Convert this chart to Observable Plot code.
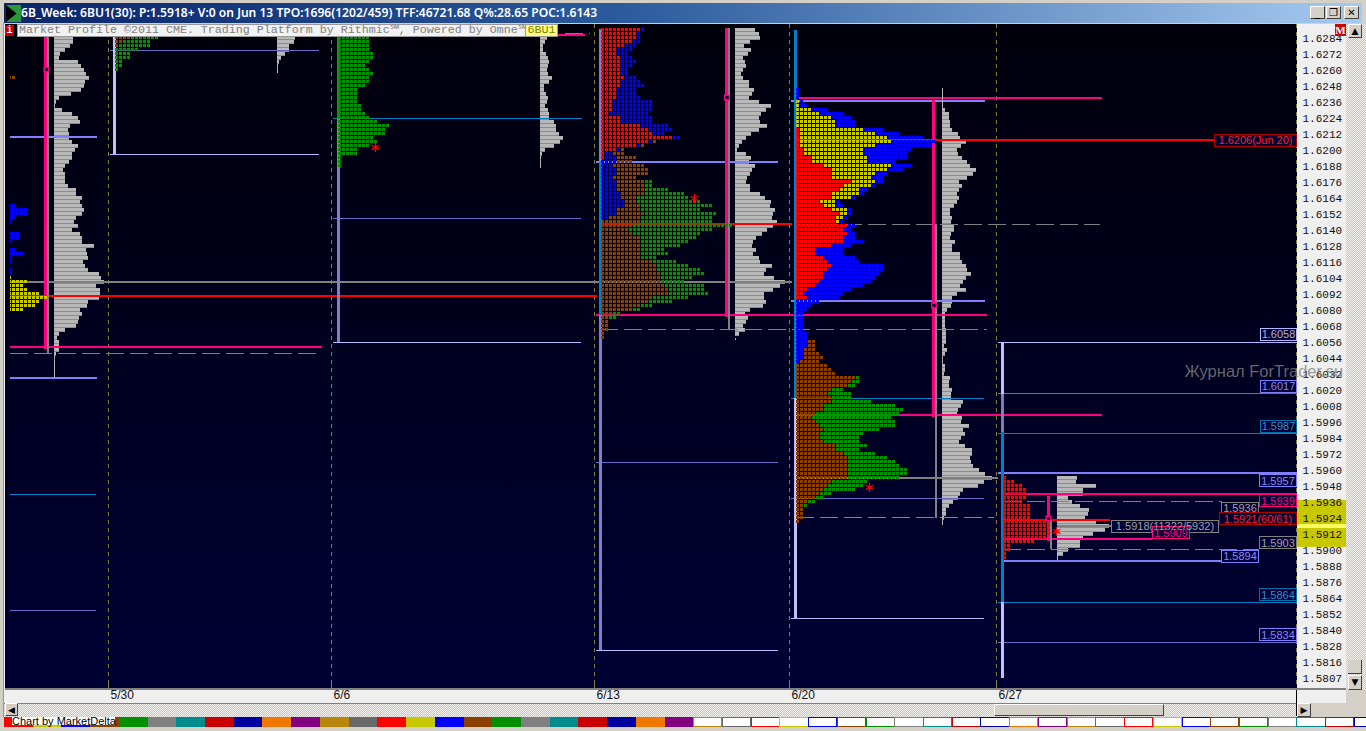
<!DOCTYPE html>
<html><head><meta charset="utf-8">
<script src="https://cdn.jsdelivr.net/npm/d3@7"></script>
<script src="https://cdn.jsdelivr.net/npm/@observablehq/plot@0.6"></script>
<style>
html,body{margin:0;padding:0;background:#d4d0c8;overflow:hidden}
#win{position:relative;width:1366px;height:731px;overflow:hidden;background:#d4d0c8}
#win>*{position:absolute}
#tb{left:4px;top:3px;width:1358px;height:20px;background:linear-gradient(to right,#0a246a 0%,#2a5a9c 45%,#a6caf0 100%);color:#fff;font:600 12.1px "Noto Sans",sans-serif;line-height:20px;white-space:nowrap}
#tb span{position:absolute;left:17px;top:0}
#icon{left:6px;top:5px;width:15px;height:17px;background:#27973a;overflow:hidden}
#icon i{position:absolute;left:0;top:0;width:15px;height:17px;background:#000;clip-path:polygon(0 0,70% 50%,0 100%)}
.wb{top:6px;width:15px;height:13px;background:#d4d0c8;border:1px solid;border-color:#fff #404040 #404040 #fff;box-sizing:border-box;color:#000;font:bold 10px "DejaVu Sans",sans-serif;text-align:center;line-height:11px}
svg{position:absolute;left:0;top:24px}
#ban{left:17px;top:24px;width:507px;height:11px;background:#f2f2f2;border:1px solid #999;color:#808080;font:11.67px/11px "Liberation Mono",monospace;white-space:nowrap;padding-left:1px}
#ban6{left:525px;top:24px;width:31px;height:11px;background:#ffff80;border:1px solid #999;color:#808000;font:11.67px/11px "Liberation Mono",monospace;white-space:nowrap;text-align:center}
#ii{left:5px;top:25px;width:9px;height:11px;background:#c80000;color:#fff;font:bold 10px/11px "Liberation Mono",monospace;text-align:center}
#mm{left:1335px;top:24px;width:11px;height:12px;background:#d00000;color:#fff;font:bold 11px/12px "Liberation Serif",serif;text-align:center}
.hatch{background:repeating-conic-gradient(#c8c4bc 0 25%,#f4f2ee 0 50%) 0 0/2px 2px}
.btn{background:#d4d0c8;border:1px solid;border-color:#fff #404040 #404040 #fff;box-sizing:border-box;color:#000;font:9px/12px "DejaVu Sans",sans-serif;text-align:center}
#cby{left:12px;top:717px;width:103px;height:8px;background:#fff;color:#000;font:11px/8px "Liberation Sans",sans-serif;white-space:nowrap;z-index:3}
.sw{top:717px;height:10px;box-sizing:border-box}
</style></head><body><div id="win"></div>
<script>
// ---------- data: price ruler and time ticks ----------
const yTickLabels=["1.6284","1.6272","1.6260","1.6248","1.6236","1.6224","1.6212","1.6200","1.6188","1.6176","1.6164","1.6152","1.6140","1.6128","1.6116","1.6104","1.6092","1.6080","1.6068","1.6056","1.6044","1.6032","1.6020","1.6008","1.5996","1.5984","1.5972","1.5960","1.5948","1.5936","1.5924","1.5912","1.5900","1.5888","1.5876","1.5864","1.5852","1.5840","1.5828","1.5816"];
const xLabels=["5/30","6/6","6/13","6/20","6/27"];
const xSlots=[108,331,594,789,996];
const lastPrice=["1.5807",1.5804];
// ---------- data: TPO letters, cumulative end column per colour, one row per price step ----------
const colBlue="#0000ff",colYellow="#c8c800",colRed="#ff0000",colBrown="#8b4000",colGreen="#009000";
const tpoOld=[[2],[5],[5],[2],[1],[0],[0],[3],[3],[1],[0],[2],[4],[1],[1],[0],[1],[1]];
const tpoOldY=[[1],[5],[4],[5],[8],[10],[8],[7],[4]];
const tpoDot=[[2]];
const tpo530=[[4,11],[2,9],[1,9],[0,6],[0,4],[0,4],[0,2],[0,2],[0,1]];
const tpo66=[[8],[8],[8],[8],[9],[9],[8],[7],[8],[9],[8],[8],[7],[5],[5],[5],[5],[6],[6],[7],[8],[10],[13],[12],[12],[9],[10],[8],[5],[5],[1],[1],[1]];
const tpo613=[[10,11],[9,10],[9,10],[8,10],[6,9],[4,8],[4,7],[5,8],[5,9],[5,8],[5,7],[5,7],[6,9],[5,10],[5,11],[4,9],[4,9],[4,10],[3,13],[3,13],[3,13],[2,12],[5,13],[5,13],[10,17],[12,18],[13,16],[18,20],[12,13,14],[9,10,11],[4,5,6],[1,3,6],[1,4,9],[0,4,8],[0,3,11],[0,4,12],[0,4,12],[0,3,9],[0,4,11,13],[0,4,11,13],[0,4,11,17],[0,5,11,21],[0,5,9,22],[0,6,9,25],[0,6,10,28],[0,4,10,25],[0,4,11,29],[0,2,10,28],[0,0,10,28],[0,0,8,33],[0,0,7,28],[0,0,8,25],[0,0,10,24],[0,0,10,22],[0,0,10,20],[0,0,10,16],[0,0,10,17],[0,0,10,14],[0,0,13,19],[0,0,14,22],[0,0,14,25],[0,0,15,26],[0,0,15,23],[0,0,15,21],[0,0,16,26],[0,0,17,26],[0,0,17,27],[0,0,13,22],[0,0,12,18],[0,0,10,13],[0,0,8,10],[0,0,3,5],[0,0,2,4],[0,0,2,2],[0,0,2,2],[0,0,2,2],[0,0,1,1],[0,0,1,1]];
const tpo620a=[[0,0,1],[0,0,1],[0,0,1],[0,1,2],[0,1,3],[0,4,8],[0,6,12],[0,9,14],[0,10,15],[0,10,15],[1,17,22],[1,20,26],[1,23,32],[1,24,35],[1,20,34],[2,17,29],[2,17,28],[4,18,28],[4,18,25],[7,24,29],[9,23,27],[9,20,23],[9,19,22],[14,20,22],[12,19,20],[11,16,18],[9,16,17],[9,14,15],[6,10,11],[7,10,12],[9,13,14],[11,13,14],[10,12,13],[10,11,12],[13,13,15],[12,12,14],[13,13,15],[12,12,15],[12,12,17],[9,9,14],[5,5,12],[5,5,12],[7,7,15],[8,8,16],[9,9,22],[8,8,22],[7,7,21],[7,7,20],[6,6,19],[5,5,17],[3,3,14],[2,2,12],[3,3,11],[0,0,6],[0,0,4],[0,0,3],[0,0,2],[0,0,2]];
const tpo620b=[[2],[2],[2],[3],[3],[3,5,5],[3,5,5],[2,5,5],[2,6,6],[2,7,7],[1,6,6],[0,8,8],[0,9,9],[0,10,10],[0,15,16],[0,14,16],[0,13,15],[0,9,12],[0,8,14],[0,9,14],[0,9,19],[0,7,25],[0,7,27],[0,5,26],[0,4,24],[0,5,25],[0,6,25],[0,7,21],[0,6,17],[0,6,16],[0,7,16],[0,10,18],[0,10,16],[0,12,20],[0,13,23],[0,13,25],[0,13,26],[0,13,28],[0,13,28],[0,13,26],[0,9,18],[0,8,17],[0,7,15],[0,6,9],[0,5,7],[0,3,5],[0,2,3],[0,2,2],[0,2,2],[0,2,2],[0,1,1]];
const tpo627=[[1],[3],[5],[6],[6],[6],[5],[7],[7],[7],[7],[12],[12],[12],[12],[11],[8],[2],[2],[1],[1]];
// [rows, colours, first column, top price, clip column]
const profiles=[
 [tpoDot,[colBrown],8,1.62555,10],
 [tpoOld,[colBlue],8,1.61595,10],
 [tpoOldY,[colYellow],8,1.61055,10],
 [tpo530,[colBrown,colGreen],115,1.62855],
 [tpo66,[colGreen],338,1.62855],
 [tpo613,[colRed,colBlue,colBrown,colGreen],601,1.62915],
 [tpo620a,[colRed,colYellow,colBlue],796,1.62465],
 [tpo620b,[colBlue,colBrown,colGreen],796,1.60725],
 [tpo627,[colRed],1003,1.59555]
];
// ---------- data: volume histograms, width per row ----------
const volOld=[19,19,16,11,6,5,24,27,30,32,35,31,30,27,17,5,2,1,8,18,24,26,16,14,15,15,18,24,21,18,18,15,11,9,11,11,11,14,22,22,28,26,28,30,28,22,20,24,18,26,28,28,40,32,33,34,29,31,34,45,47,50,42,46,46,45,34,33,26,28,25,24,22,11,5,3,5,5,5,2,1,1];
const vol530=[18,17,12,12,8,4,2,1];
const vol66=[7,5,3,3,6,8,9,8,7,8,12,9,4,4,6,8,7,5,8,9,9,14,16,16,19,23,20,14,5,2,1];
const vol613=[20,24,25,15,9,16,13,8,10,11,8,6,8,14,14,19,17,14,24,36,31,26,24,25,32,24,16,11,7,4,2,11,16,14,20,17,15,12,11,15,15,25,30,36,35,40,38,37,42,38,32,27,21,18,17,21,18,24,25,37,31,29,39,50,45,38,29,29,31,28,15,10,13,11,8,10,4];
const vol620=[3,7,7,8,8,10,16,18,24,19,15,16,20,25,28,34,31,25,17,20,17,15,17,15,12,8,8,10,9,12,12,9,8,13,10,10,18,18,20,24,25,29,24,21,18,24,15,10,10,9,5,3,3,3,3,4,4,4,4,2,5,3,1,1,3,3,2,8,7,7,10,9,9,21,19,16,15,20,19,27,21,23,19,17,23,30,30,28,29,31,37,43,50,42,36,21,18,16,11,7,4,4,2];
const vol627=[20,19,39,26,26,11,15,23,32,31,28,39,52,48,36,26,23,23,11,6];
// [widths, base slot, top price]
const histograms=[[volOld,54,1.62855],[vol530,277,1.62855],[vol66,540,1.62855],[vol613,735,1.62915],[vol620,942,1.62315],[vol627,1057,1.59555]];
// ---------- data: horizontal price levels [price, from, to, kind] ----------
const levels=[
 [1.6101,10,792,"gray"],[1.60905,10,597,"red"],[1.60523,10,322,"pink"],[1.60478,10,322,"dash"],
 [1.62098,10,97,"peri"],[1.6029,10,97,"peri"],[1.5942,10,96,"teal"],[1.5855,10,96,"thin"],
 [1.6275,110,319,"thin"],[1.6197,110,319,"pale"],
 [1.6224,333,582,"teal"],[1.6149,333,581,"thin"],[1.6056,333,581,"pale"],
 [1.62866,460,585,"pink"],[1.62878,565,590,"dash"],
 [1.6191,596,778,"peri"],[1.61445,600,792,"red"],[1.60763,596,987,"pink"],[1.60658,600,987,"dash"],[1.5966,596,778,"thin"],[1.5825,596,778,"pale"],
 [1.6239,794,1102,"pink"],[1.62368,791,985,"peri"],[1.62075,796,1214,"red"],[1.61445,796,1100,"dash"],[1.60864,791,985,"peri"],[1.6014,791,984,"teal"],[1.60016,796,1102,"pink"],[1.5954,796,998,"gray"],[1.5939,791,984,"thin"],[1.59248,796,994,"dash"],[1.5849,791,984,"pale"],
 [1.6056,998,1297,"pale"],[1.60178,998,1297,"thin"],[1.59878,998,1297,"teal"],[1.59578,998,1297,"peri"],[1.5942,1001,1297,"pink"],[1.59371,1003,1222,"dash"],[1.59225,1003,1110,"red"],[1.5918,1057,1111,"gray"],[1.59083,1001,1152,"pink"],[1.59008,1003,1259,"dash"],[1.58914,1001,1258,"peri"],[1.5861,998,1297,"teal"],[1.5831,998,1297,"thin"]
];
// ---------- data: vertical range bars [slot, top price, bottom price, kind] ----------
const bars=[
 [48,1.62855,1.6047,"vgray"],[45.5,1.62855,1.60508,"vpink"],
 [114.5,1.62855,1.6197,"vpale"],
 [338.5,1.62855,1.6224,"vteal"],[338.5,1.6224,1.6056,"vlav"],
 [600.5,1.62908,1.6191,"vlav"],[600.5,1.6191,1.60763,"vteal"],[600.5,1.60763,1.5825,"vlav"],
 [729,1.62915,1.60658,"vgray"],[726.5,1.62915,1.60748,"vpink"],
 [795.5,1.629,1.6014,"vteal"],[795.5,1.6014,1.5849,"vpale"],
 [936,1.61445,1.5924,"vgray"],[933.5,1.62375,1.59998,"vpink"],
 [1002.5,1.6056,1.6017,"vpale"],[1002.5,1.6017,1.59885,"vmid"],[1002.5,1.59885,1.5861,"vteal"],[1002.5,1.5861,1.5804,"vpale"],
 [1051,1.59225,1.59008,"vgray"],[1048.5,1.59405,1.59068,"vpink"],
 [54.5,1.60425,1.60298,"stem"],[277.5,1.62615,1.62578,"stem"],[540.5,1.61925,1.61865,"stem"],[735.5,1.6059,1.60575,"stem"],[942.5,1.62465,1.62315,"stem"],[942.5,1.5925,1.5919,"stem"],[1057.5,1.58985,1.58925,"stem"]
];
// ---------- data: markers ----------
const openMarks=[[46,1.62608],[726.5,1.62398],[933.5,1.60838],[1048,1.5924]];
const stars=[[375,1.62023],[694,1.6164],[869,1.59473],[1056,1.59143]];
// ---------- data: price tags [text, top price, from, to, kind] ----------
const tags=[
 ["1.6206(Jun 20)",1.6212,1214,1296,"red"],
 ["1.6058",1.60665,1260,1296,"pale"],
 ["1.6017",1.60275,1260,1296,"peri"],
 ["1.5987",1.59975,1260,1296,"teal"],
 ["1.5957",1.59563,1259,1296,"peri"],
 ["1.5936",1.5936,1221,1258,"gray"],
 ["1.5939",1.59413,1259,1296,"pink"],
 ["1.5921(60/61)",1.59278,1219,1296,"red"],
 ["1.5918(11322/5932)",1.59225,1111,1218,"gray"],
 ["1.5909",1.59173,1152,1189,"pink"],
 ["1.5903",1.59098,1259,1296,"gray"],
 ["1.5894",1.5900,1221,1258,"peri"],
 ["1.5864",1.58708,1259,1296,"teal"],
 ["1.5834",1.58408,1259,1296,"peri"]
];
const titleText="6B_Week: 6BU1(30): P:1.5918+ V:0 on Jun 13 TPO:1696(1202/459) TFF:46721.68 Q%:28.65 POC:1.6143";
const bannerText="Market Profile ©2011 CME. Trading Platform by Rithmic℠, Powered by Omne℠";
const swatchColors=["#ff0000","#c8c800","#0000ff","#8b4000","#009000","#808080","#008c8c","#c80000","#0000a0","#f07800","#800080","#b8860b","#696969"];
const markerBand=[1.59375,1.59023];
const currentBand=[1.59195,1.59165];
const watermark=["Журнал ForTrader.su",1184,1.6034];

// ---------- styles ----------
const rowStep=0.0003, cellH=0.000225, cellPitch=4, cellW=3, volH=0.000225, halfPx=0.0000375;
const lineKinds={
 peri:{stroke:"#8080ff",w:2},thin:{stroke:"#6868c8",w:1},pale:{stroke:"#b8b8ff",w:1},teal:{stroke:"#0080c8",w:1},
 pink:{stroke:"#ff0080",w:2},red:{stroke:"#ff0000",w:2},gray:{stroke:"#808080",w:2},dash:{stroke:"#808080",w:1,dash:"18 6"},
 vgray:{stroke:"#808080",w:2},vpink:{stroke:"#ff0080",w:3},vpale:{stroke:"#c0c0ff",w:3},vlav:{stroke:"#8080c8",w:3},vteal:{stroke:"#0080c8",w:3},vmid:{stroke:"#8080b0",w:3},stem:{stroke:"#b4b4b4",w:1}
};
const tagStyle={red:{s:"#b00000",t:"#ff2020"},pale:{s:"#b8b8ff",t:"#b0b0d0"},peri:{s:"#8080ff",t:"#8888ff"},teal:{s:"#0070b0",t:"#3090d0"},pink:{s:"#ff0080",t:"#ff0080"},gray:{s:"#808080",t:"#a0a0a0"}};

// ---------- expand tables ----------
const cells=[];
profiles.forEach(([rows,cols,x0,top,clip])=>rows.forEach((r,i)=>{
  let prev=0;
  r.forEach((end,c)=>{for(let k=prev;k<end;k++)cells.push({x1:Math.max(x0+k*cellPitch,clip||0),x2:x0+k*cellPitch+cellW,p:top-i*rowStep,color:cols[c]});prev=Math.max(prev,end);});
}));
const volRows=histograms.flatMap(([w,base,top])=>w.map((v,i)=>({x1:base,x2:base+v,p:top-i*rowStep})));
const crisp={shapeRendering:"crispEdges"};
const mono='"Liberation Mono",monospace', sans='"Liberation Sans",sans-serif';
const levelMarks=Object.keys(lineKinds).map(k=>{const s=lineKinds[k];return Plot.ruleY(levels.filter(d=>d[3]===k),{y:d=>d[0]+(s.w%2===0?halfPx:0),x1:d=>d[1],x2:d=>d[2],stroke:s.stroke,strokeWidth:s.w,strokeDasharray:s.dash,strokeLinecap:"butt",...crisp});});
const barMarks=Object.keys(lineKinds).map(k=>{const s=lineKinds[k];return Plot.ruleX(bars.filter(d=>d[3]===k),{x:d=>d[0]-0.5,y1:d=>d[1],y2:d=>d[2],stroke:s.stroke,strokeWidth:s.w,...crisp});});

const svg=Plot.plot({
 width:1346,height:679,marginTop:0,marginBottom:15,marginLeft:5,marginRight:49,
 x:{domain:[5,1297],range:[5,1297]},
 y:{domain:[1.62945,1.57965],range:[0,664]},
 color:{type:"identity"},
 style:{background:"linear-gradient(#00000c,#000034) 5px 0/1292px 664px no-repeat,#efefef",overflow:"visible"},
 marks:[
  Plot.ruleX(xSlots.concat([1296]),{stroke:"#808040",strokeWidth:1,strokeDasharray:"4 4",...crisp}),
  Plot.rect(volRows,{x1:"x1",x2:"x2",y1:"p",y2:d=>d.p-rowStep,fill:"#8c8c8c",...crisp}),
  Plot.rect(volRows,{x1:"x1",x2:"x2",y1:"p",y2:d=>d.p-volH,fill:"#b8b8b8",...crisp}),
  ...levelMarks,
  ...barMarks,
  Plot.rect(cells,{x1:"x1",x2:"x2",y1:"p",y2:d=>d.p-cellH,fill:"color",...crisp}),
  Plot.dot(openMarks,{x:d=>d[0],y:d=>d[1],symbol:"square",r:2.6,fill:"#000030",stroke:"#ff0080",strokeWidth:1.5}),
  Plot.dot(stars,{x:d=>d[0],y:d=>d[1],symbol:"asterisk",r:4.2,stroke:"#ff0000",strokeWidth:1.3}),
  Plot.rect(tags,{x1:d=>d[2],x2:d=>d[3],y1:d=>d[1],y2:d=>d[1]-0.0009,fill:"#000034",stroke:d=>tagStyle[d[4]].s,strokeWidth:1,...crisp}),
  Plot.text(tags,{x:d=>(d[2]+d[3])/2,y:d=>d[1]-0.00045,text:d=>d[0],fill:d=>tagStyle[d[4]].t,fontFamily:sans,fontSize:11}),
  Plot.rect([markerBand],{x1:1297,x2:1347,y1:d=>d[0],y2:d=>d[1],fill:"#c8c800"}),
  Plot.rect([currentBand],{x1:1297,x2:1347,y1:d=>d[0],y2:d=>d[1],fill:"#ffff60"}),
  Plot.axisY({anchor:"right",ticks:yTickLabels.map(Number),tickFormat:".4f",tickSize:0,tickPadding:5,textAnchor:"start",fill:"#101010",fontFamily:mono,fontSize:11,label:null}),
  Plot.text([lastPrice],{x:1302,y:d=>d[1],text:d=>d[0],textAnchor:"start",fill:"#101010",fontFamily:mono,fontSize:11}),
  Plot.ruleX(xSlots,{y1:1.5802,y2:1.57965,stroke:"#808040",...crisp}),
  Plot.axisX({anchor:"bottom",ticks:xSlots,tickFormat:(d,i)=>xLabels[i],tickSize:0,tickPadding:2,dx:2,textAnchor:"start",fill:"#101010",fontFamily:sans,fontSize:12,label:null}),
  Plot.text([watermark],{x:d=>d[1],y:d=>d[2],text:d=>d[0],textAnchor:"start",fill:"#808080",fillOpacity:0.8,fontFamily:sans,fontSize:16.5})
 ]
});

// ---------- window chrome ----------
const win=document.getElementById("win");
function add(tag,id,cls,css,txt){const e=document.createElement(tag);if(id)e.id=id;if(cls)e.className=cls;if(css)e.style.cssText=css;if(txt!=null)e.textContent=txt;win.appendChild(e);return e;}
win.appendChild(svg);
const tb=add("div","tb");const ts=document.createElement("span");ts.textContent=titleText;tb.appendChild(ts);
add("div","icon").appendChild(document.createElement("i"));
[["_",1310],["❐",1326],["✕",1344]].forEach(([t,x])=>add("div",null,"wb","left:"+x+"px",t));
add("div","ban",null,null,bannerText);add("div","ban6",null,null,"6BU1");add("div","ii",null,null,"i");add("div","mm",null,null,"M");
add("div",null,null,"left:0;top:23px;width:4px;height:694px;background:linear-gradient(to right,#d4d0c8,#d4d0c8 60%,#808080)");
add("div",null,null,"left:5px;top:688px;width:1341px;height:2px;background:#808080");
add("div",null,"hatch","left:1346px;top:24px;width:20px;height:666px");
add("div",null,"btn","left:1348px;top:24px;width:14px;height:14px","▲");
add("div",null,null,"left:1348px;top:660px;width:14px;height:14px;background:#d4d0c8;border-bottom:1px solid #404040;border-right:1px solid #404040;box-sizing:border-box");
add("div",null,"btn","left:1348px;top:675px;width:14px;height:15px","▼");
add("div",null,"hatch","left:4px;top:703px;width:1293px;height:14px;border-top:1px solid #808080;box-sizing:border-box");
add("div",null,"btn","left:5px;top:703px;width:13px;height:13px","◀");
add("div",null,"btn","left:994px;top:704px;width:170px;height:12px");
add("div",null,"btn","left:1297px;top:703px;width:14px;height:14px","▶");
add("div",null,null,"left:1296px;top:690px;width:1px;height:26px;background:#000");
const pitch=28.72;
for(let i=0;i<48;i++){
  const c=swatchColors[i%swatchColors.length],x=4+i*pitch;
  if(i<24)add("div",null,"sw","left:"+x+"px;width:"+(pitch+0.5)+"px;background:"+c);
  else add("div",null,"sw","left:"+x+"px;width:"+(pitch+0.5)+"px;background:#fff;border:1px solid "+c);
}
add("div","cby",null,null,"Chart by MarketDelta");
</script></body></html>
